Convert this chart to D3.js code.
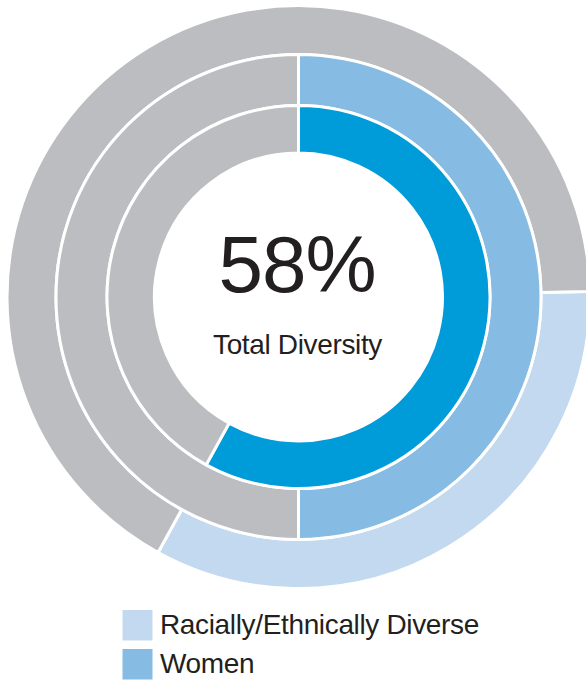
<!DOCTYPE html>
<html>
<head>
<meta charset="utf-8">
<script src="https://cdn.jsdelivr.net/npm/d3@7"></script>
<style>
  html, body { margin: 0; padding: 0; background: #ffffff; }
  svg { display: block; }
</style>
</head>
<body>
<svg id="chart" width="586" height="681"></svg>
<script>
// ---- data (percent of the full circle) ----
const ringNames   = ["Racially/Ethnically Diverse", "Women", "Total Diversity"];
const ringStarts  = [24.7, 0, 0];     // where each coloured arc begins (percent)
const ringValues  = [33.3, 50, 58];   // length of each coloured arc (percent)
const ringColors  = ["#c3d9ef", "#86bbe3", "#009cd9"];
const restColor   = "#bcbdc1";
const centerValue = "58%";
const centerLabel = "Total Diversity";
const legendNames  = ["Racially/Ethnically Diverse", "Women"];
const legendColors = ["#c3d9ef", "#86bbe3"];

// ---- layout ----
const cx = 298.5, cy = 297;
const ringRadii = [[242.5, 291.5], [191.5, 242.5], [144, 191.5]]; // [inner, outer]

const svg = d3.select("#chart");
const angle = d3.scaleLinear().domain([0, 100]).range([0, 2 * Math.PI]);

const g = svg.append("g").attr("transform", `translate(${cx},${cy})`);

ringNames.forEach((name, i) => {
  const [ri, ro] = ringRadii[i];
  const arc = d3.arc().innerRadius(ri).outerRadius(ro);
  const s = ringStarts[i], e = ringStarts[i] + ringValues[i];
  const segs = [
    { from: s, to: e, color: ringColors[i] },
    { from: e, to: s + 100, color: restColor }
  ];
  g.selectAll(null)
    .data(segs)
    .enter()
    .append("path")
    .attr("d", d => arc({ startAngle: angle(d.from), endAngle: angle(d.to) }))
    .attr("fill", d => d.color)
    .attr("stroke", "#ffffff")
    .attr("stroke-width", 3)
    .attr("stroke-linejoin", "miter");
});

// centre texts
const font = "'Liberation Sans', Arial, Helvetica, sans-serif";
svg.append("text")
  .attr("x", cx - 1.5)
  .attr("y", 291.7)
  .attr("text-anchor", "middle")
  .attr("font-family", font)
  .attr("font-size", 80)
  .attr("letter-spacing", "-1px")
  .attr("fill", "#231f20")
  .text(centerValue);

svg.append("text")
  .attr("x", cx - 1)
  .attr("y", 354.3)
  .attr("text-anchor", "middle")
  .attr("font-family", font)
  .attr("font-size", 28)
  .attr("letter-spacing", "-0.35px")
  .attr("fill", "#231f20")
  .text(centerLabel);

// legend
const legend = svg.append("g");
const ly = d3.scaleBand().domain(legendNames).range([610, 688]).paddingInner(0);
legendNames.forEach((n, i) => {
  const y = ly(n);
  legend.append("rect")
    .attr("x", 122.5).attr("y", y)
    .attr("width", 30).attr("height", 30.5)
    .attr("fill", legendColors[i]);
  legend.append("text")
    .attr("x", 160).attr("y", y + 24.3)
    .attr("font-family", font)
    .attr("font-size", 28)
    .attr("letter-spacing", "-0.35px")
    .attr("fill", "#231f20")
    .text(n);
});
</script>
</body>
</html>
